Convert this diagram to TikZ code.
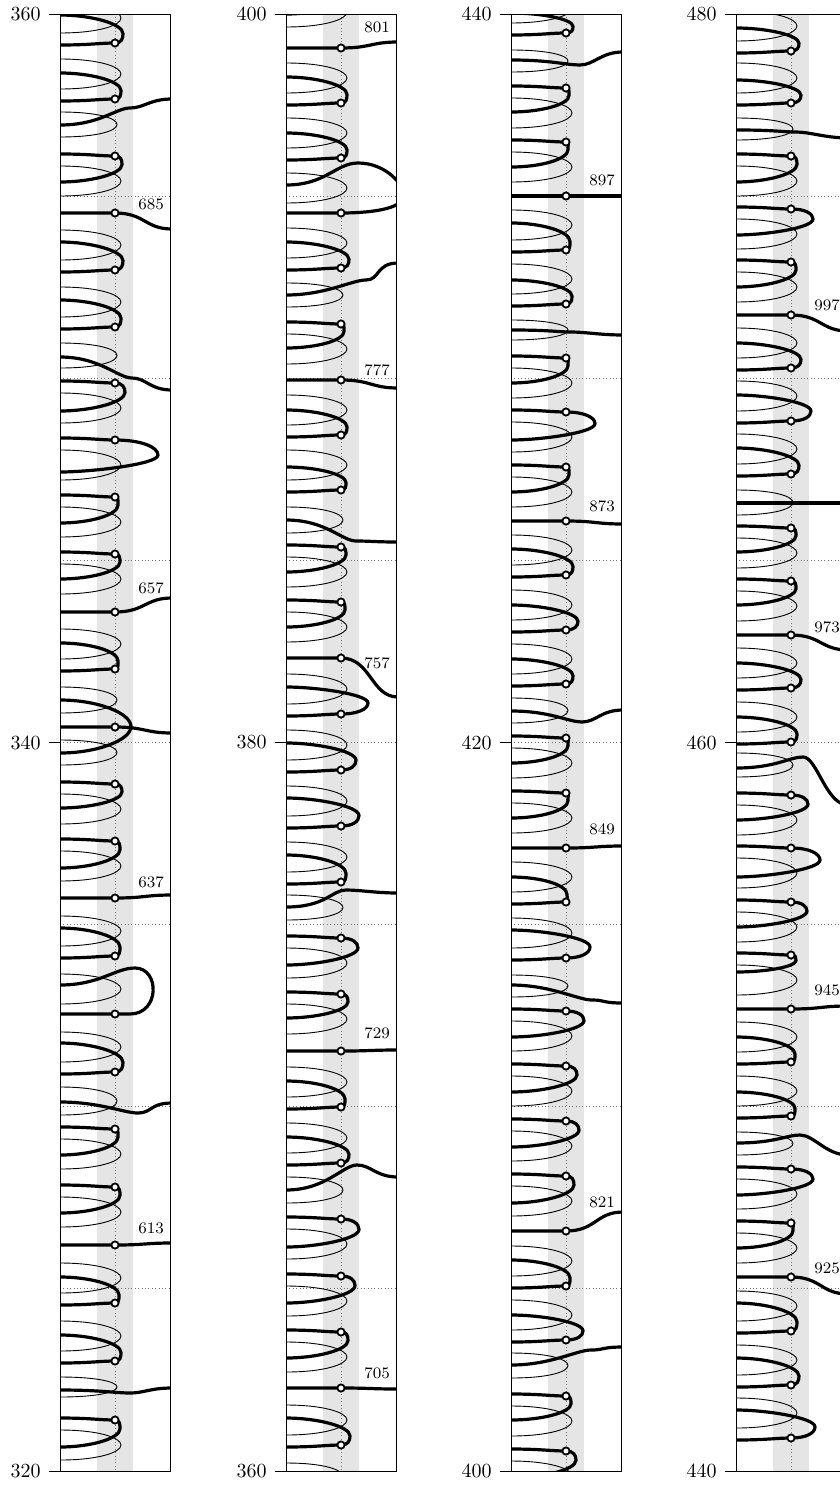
\documentclass[tikz,border=0pt]{standalone}
\usetikzlibrary{calc}

% one thin hairpin (optional style): upper end, lower end, tip offset
\newcommand{\reLoop}[4][reline]{%
  \draw[#1] (0,{#2}) .. controls (38,{#2}) and ({55+#4},{(#2)+0.25*((#3)-(#2))})
    .. ({55+#4},{((#2)+(#3))/2}) .. controls ({55+#4},{(#3)-0.25*((#3)-(#2))}) and (38,{#3}) .. (0,{#3});}
% zero with its loop below: height, bulge, lower end
\newcommand{\zeroUp}[3]{%
  \reLoop{(#1)+10}{(#1)+40}{6}
  \pgfmathsetmacro{\tipf}{min(0.5,0.3+0.004*(#2))}
  \pgfmathsetmacro{\tipy}{(#1)+\tipf*((#3)-(#1))}
  \draw[imline] (0,{(#1)-2}) .. controls (30,{(#1)-2}) and (40,{#1}) .. (55,{#1})
    .. controls ({57+0.55*(#2)},{#1}) and ({55+#2},{\tipy-0.55*(\tipy-(#1))}) .. ({55+#2},{\tipy})
    .. controls ({55+#2},{\tipy+0.55*((#3)-\tipy)}) and (30,{#3}) .. (0,{#3});
  \draw[zeromark] (55,{#1}) circle[radius=3.6];}
% zero with its loop above: height, bulge, upper end
\newcommand{\zeroDown}[3]{%
  \reLoop{(#1)-40}{(#1)-10}{6}
  \pgfmathsetmacro{\tipf}{min(0.5,0.3+0.004*(#2))}
  \pgfmathsetmacro{\tipy}{(#1)-\tipf*((#1)-(#3))}
  \draw[imline] (0,{#3}) .. controls (30,{#3}) and ({55+#2},{\tipy-0.55*(\tipy-(#3))}) .. ({55+#2},{\tipy})
    .. controls ({55+#2},{\tipy+0.55*((#1)-\tipy)}) and ({57+0.55*(#2)},{#1}) .. (55,{#1})
    .. controls (40,{#1}) and (30,{(#1)+2}) .. (0,{(#1)+2});
  \draw[zeromark] (55,{#1}) circle[radius=3.6];}
% zero on a line that runs out to the right
\newcommand{\zeroPass}[2]{%
  \draw[imline] (0,{#1}) -- (55,{#1}) .. controls (85,{#1}) and (85,{#2}) .. (112,{#2});
  \draw[zeromark] (55,{#1}) circle[radius=3.6];}
\newcommand{\zeroExit}[4]{%
  \zeroPass{#1}{#2}
  \node[gramlabel] (g#3) at (91,{#4}) {#3};}
% line across the strip with no zero: left end, mid x, mid y, right end
\newcommand{\imLine}[4]{%
  \draw[imline] (0,{#1}) .. controls (40,{#1}) and ({(#2)-14},{#3}) .. ({#2},{#3})
    .. controls ({(#2)+14},{#3}) and (90,{#4}) .. (112,{#4});}
\newcommand{\stripBack}{%
  \fill[band] (37,14) rectangle (73,1471);
  \draw[gridline] (55,14) -- (55,1471);
  \foreach \k in {1,...,7} {\draw[gridline] (0,{14+182.125*\k}) -- (110,{14+182.125*\k});}}
\newcommand{\stripFrame}[3]{%
  \draw[frameline] (0,14) rectangle (110,1471);
  \draw[frameline] (-11,14) -- (0,14) (-11,742.5) -- (0,742.5) (-11,1471) -- (0,1471);
  \node[axislabel] (t#1) at (-19,14) {#1};
  \node[axislabel] (m#2) at (-19,742.5) {#2};
  \node[axislabel] (b#3) at (-19,1471) {#3};}

\begin{document}
\begin{tikzpicture}[
  x=0.5pt, y=-0.5pt,
  reline/.style={line width=0.45pt},
  imline/.style={line width=1.6pt, line cap=round},
  zeromark/.style={draw, fill=white, line width=0.9pt},
  gramlabel/.style={font=\footnotesize, inner sep=0pt},
  axislabel/.style={font=\normalsize, inner sep=0pt, anchor=east},
  gridline/.style={black!55, line width=0.4pt, dash pattern=on 0.5pt off 1.2pt},
  frameline/.style={line width=0.5pt},
  band/.style={fill=black!10}
]
\useasboundingbox (0,0) rectangle (840,1488);
\clip (0,0) rectangle (840,1488);

% strip 320--360
\begin{scope}[shift={(60,0)}]
  \stripBack
  \begin{scope}
    \clip (0,14) rectangle (110,1471);
    \zeroDown{43}{8}{15}
    \zeroDown{99}{6}{73}
    \reLoop{112}{137}{2}
    \imLine{125}{70}{108}{99}
    \zeroUp{156}{7}{182}
    \zeroExit{213}{229}{685}{204}
    \zeroDown{270}{8}{242}
    \zeroDown{327}{6}{300}
    \reLoop{343}{368}{2}
    \imLine{357}{72}{378}{390}
    \zeroUp{383}{10}{411}
    \zeroUp{440}{43}{472}
    \zeroUp{497}{3}{523}
    \zeroUp{554}{5}{579}
    \zeroExit{612}{598}{657}{588}
    \zeroDown{669}{3}{643}
    \reLoop{687}{713}{2}
    \reLoop{740}{765}{2}
    \reLoop[imline]{700}{753}{16}
    \zeroPass{727}{733}
    \zeroUp{784}{7}{808}
    \zeroUp{841}{5}{868}
    \zeroExit{898}{895}{637}{882}
    \zeroDown{956}{5}{928}
    \reLoop{974}{1004}{6}
    \draw[imline] (0,985) .. controls (40,985) and (55,968) .. (75,968)
      .. controls (100,968) and (100,1014) .. (70,1014) -- (0,1014);
    \draw[zeromark] (55,1014) circle[radius=3.6];
    \zeroDown{1072}{8}{1043}
    \reLoop{1087}{1115}{2}
    \imLine{1102}{78}{1113}{1103}
    \zeroUp{1129}{3}{1155}
    \zeroUp{1187}{5}{1213}
    \zeroExit{1245}{1243}{613}{1228}
    \zeroDown{1303}{4}{1277}
    \zeroDown{1361}{6}{1335}
    \reLoop{1377}{1397}{2}
    \imLine{1390}{70}{1393}{1388}
    \zeroUp{1420}{5}{1447}
  \end{scope}
  \stripFrame{360}{340}{320}
\end{scope}

% strip 360--400
\begin{scope}[shift={(286,0)}]
  \stripBack
  \begin{scope}
    \clip (0,14) rectangle (110,1471);
    \zeroUp{-13}{5}{14}
    \zeroExit{48}{42}{801}{27}
    \zeroDown{103}{6}{77}
    \zeroDown{158}{6}{133}
    \reLoop{173}{203}{6}
    \draw[imline] (0,185) .. controls (40,185) and (50,163) .. (72,163)
      .. controls (100,163) and (118,185) .. (118,195)
      .. controls (118,210) and (80,213) .. (55,213) -- (0,213);
    \draw[zeromark] (55,213) circle[radius=3.6];
    \zeroDown{268}{8}{242}
    \reLoop{283}{307}{2}
    \imLine{295}{80}{280}{263}
    \zeroUp{324}{3}{348}
    \zeroExit{380}{388}{777}{370}
    \zeroDown{435}{6}{410}
    \zeroDown{490}{5}{467}
    \reLoop{507}{533}{2}
    \imLine{520}{70}{541}{542}
    \zeroUp{547}{5}{572}
    \zeroUp{602}{4}{627}
    \zeroExit{658}{697}{757}{663}
    \zeroDown{714}{27}{687}
    \zeroDown{770}{15}{743}
    \zeroDown{826}{18}{798}
    \zeroDown{882}{5}{855}
    \reLoop{895}{920}{2}
    \imLine{907}{60}{890}{893}
    \zeroUp{938}{17}{965}
    \zeroUp{994}{7}{1018}
    \zeroExit{1051}{1050}{729}{1033}
    \zeroDown{1107}{4}{1081}
    \zeroDown{1163}{8}{1137}
    \reLoop{1177}{1203}{2}
    \imLine{1190}{71}{1165}{1177}
    \zeroUp{1219}{18}{1247}
    \zeroUp{1276}{14}{1303}
    \zeroUp{1332}{7}{1358}
    \zeroExit{1388}{1389}{705}{1373}
    \zeroDown{1445}{9}{1418}
    \reLoop{1463}{1490}{2}
  \end{scope}
  \stripFrame{400}{380}{360}
\end{scope}

% strip 400--440
\begin{scope}[shift={(511,0)}]
  \stripBack
  \begin{scope}
    \clip (0,14) rectangle (110,1471);
    \zeroDown{33}{7}{13}
    \reLoop{50}{72}{2}
    \imLine{60}{69}{65}{52}
    \zeroUp{88}{3}{112}
    \zeroUp{142}{2}{167}
    \zeroExit{196}{196}{897}{180}
    \zeroDown{250}{4}{223}
    \zeroDown{304}{6}{280}
    \reLoop{320}{340}{2}
    \imLine{330}{60}{332}{335}
    \zeroUp{358}{2}{383}
    \zeroUp{412}{29}{440}
    \zeroUp{467}{3}{492}
    \zeroExit{521}{524}{873}{506}
    \zeroDown{575}{7}{549}
    \zeroDown{630}{12}{605}
    \zeroDown{684}{7}{659}
    \reLoop{698}{723}{2}
    \imLine{711}{71}{722}{710}
    \zeroUp{738}{2}{763}
    \zeroUp{793}{2}{818}
    \zeroExit{848}{846}{849}{829}
    \zeroDown{902}{1}{877}
    \zeroDown{958}{24}{930}
    \reLoop{975}{997}{2}
    \imLine{985}{81}{1000}{1003}
    \zeroUp{1011}{18}{1037}
    \zeroUp{1066}{11}{1092}
    \zeroUp{1121}{13}{1147}
    \zeroUp{1176}{8}{1203}
    \zeroExit{1231}{1212}{821}{1202}
    \zeroDown{1286}{4}{1260}
    \zeroDown{1340}{17}{1315}
    \reLoop{1353}{1378}{2}
    \imLine{1365}{80}{1350}{1347}
    \zeroUp{1396}{5}{1420}
    \zeroUp{1451}{10}{1478}
  \end{scope}
  \stripFrame{440}{420}{400}
\end{scope}

% strip 440--480
\begin{scope}[shift={(736,0)}]
  \stripBack
  \begin{scope}
    \clip (0,14) rectangle (110,1471);
    \zeroDown{51}{8}{28}
    \zeroDown{103}{10}{80}
    \reLoop{118}{140}{2}
    \imLine{130}{60}{132}{138}
    \zeroUp{156}{6}{182}
    \zeroUp{209}{22}{235}
    \zeroUp{262}{5}{287}
    \zeroExit{315}{331}{997}{305}
    \zeroDown{368}{10}{343}
    \zeroDown{421}{20}{395}
    \zeroDown{474}{8}{448}
    \reLoop{490}{515}{2}
    \imLine{503}{60}{503}{503}
    \zeroUp{528}{5}{552}
    \zeroUp{581}{5}{605}
    \zeroExit{635}{650}{973}{627}
    \zeroDown{688}{10}{663}
    \zeroDown{742}{6}{717}
    \reLoop{753}{777}{2}
    \imLine{768}{67}{757}{805}
    \zeroUp{795}{17}{820}
    \zeroUp{848}{29}{877}
    \zeroUp{902}{16}{927}
    \zeroUp{955}{5}{972}
    \zeroExit{1009}{1006}{945}{990}
    \zeroDown{1062}{4}{1037}
    \zeroDown{1116}{4}{1092}
    \reLoop{1132}{1155}{2}
    \imLine{1143}{64}{1135}{1155}
    \zeroUp{1169}{22}{1195}
    \zeroUp{1223}{2}{1248}
    \zeroExit{1277}{1294}{925}{1268}
    \zeroDown{1331}{6}{1303}
    \zeroDown{1385}{8}{1358}
    \zeroDown{1438}{24}{1410}
  \end{scope}
  \stripFrame{480}{460}{440}
\end{scope}
\end{tikzpicture}
\end{document}
